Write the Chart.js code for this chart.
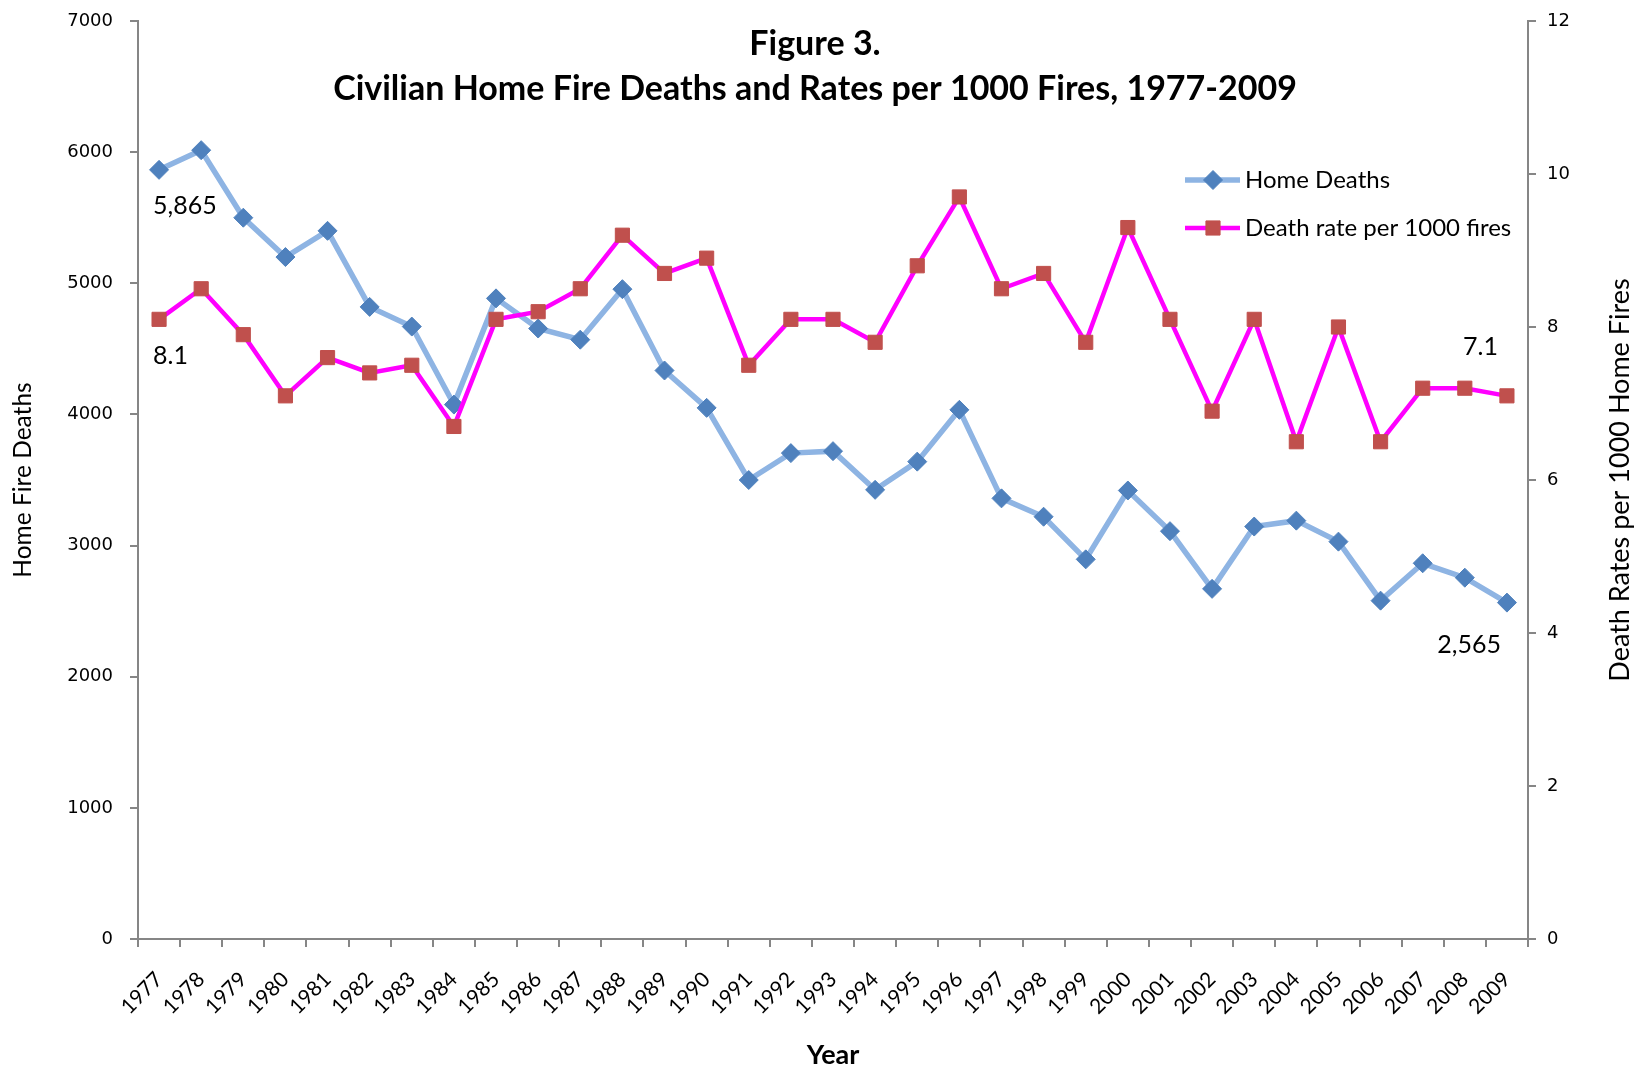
<!DOCTYPE html>
<html>
<head>
<meta charset="utf-8">
<script src="https://cdn.jsdelivr.net/npm/chart.js@4.4.1/dist/chart.umd.min.js"></script>
<style>
  html, body { margin: 0; padding: 0; background: #fff; }
  #wrap { width: 1639px; height: 1071px; }
</style>
</head>
<body>
<div id="wrap"><canvas id="fireChart" width="1639" height="1071"></canvas></div>
<script>
const years = ['1977', '1978', '1979', '1980', '1981', '1982', '1983', '1984', '1985', '1986', '1987',
  '1988', '1989', '1990', '1991', '1992', '1993', '1994', '1995', '1996', '1997', '1998',
  '1999', '2000', '2001', '2002', '2003', '2004', '2005', '2006', '2007', '2008', '2009'];

// civilian home fire deaths
const homeDeaths = [5865, 6015, 5500, 5200, 5400, 4820, 4670, 4075, 4885, 4655, 4570,
  4955, 4335, 4050, 3500, 3705, 3720, 3425, 3640, 4035, 3360, 3220,
  2895, 3420, 3110, 2670, 3145, 3190, 3030, 2580, 2865, 2755, 2565];

// deaths per 1000 home fires
const deathRate = [8.1, 8.5, 7.9, 7.1, 7.6, 7.4, 7.5, 6.7, 8.1, 8.2, 8.5,
  9.2, 8.7, 8.9, 7.5, 8.1, 8.1, 7.8, 8.8, 9.7, 8.5, 8.7,
  7.8, 9.3, 8.1, 6.9, 8.1, 6.5, 8.0, 6.5, 7.2, 7.2, 7.1];

const titleLines = ['Figure 3.', 'Civilian Home Fire Deaths and Rates per 1000 Fires, 1977-2009'];
const seriesNames = ['Home Deaths', 'Death rate per 1000 fires'];

const axisGray = '#868686';

// first and last values get a text label, like the original
const pointNotes = [
  { ds: 0, index: 0, dx: -6, dy: 36, align: 'left' },
  { ds: 1, index: 0, dx: -6, dy: 37, align: 'left' },
  { ds: 0, index: years.length - 1, dx: -6, dy: 42, align: 'right' },
  { ds: 1, index: years.length - 1, dx: -9, dy: -49, align: 'right' }
];

// keep the plot top fixed, labels may hang over the edge
const noOverhang = s => { s.paddingTop = 0; s.paddingBottom = 0; };

const overlay = {
  id: 'overlay',
  afterDatasetsDraw(chart) {
    const { ctx } = chart;
    ctx.save();
    ctx.fillStyle = '#000';
    ctx.textBaseline = 'middle';

    // title sits inside the plot area
    ctx.textAlign = 'center';
    ctx.font = 'bold 34px Lato';
    ctx.fillText(titleLines[0], 815, 44);
    ctx.fillText(titleLines[1], 815, 89);

    // legend
    const rows = [180, 228];
    chart.data.datasets.forEach((ds, i) => {
      const y = rows[i];
      ctx.strokeStyle = ds.borderColor;
      ctx.lineWidth = ds.borderWidth;
      ctx.beginPath();
      ctx.moveTo(1185, y);
      ctx.lineTo(1240, y);
      ctx.stroke();
      ctx.fillStyle = ds.pointBackgroundColor;
      ctx.strokeStyle = ds.pointBorderColor;
      ctx.lineWidth = ds.pointBorderWidth;
      Chart.helpers.drawPoint(ctx, {
        pointStyle: ds.pointStyle, radius: ds.pointRadius, rotation: 0, borderWidth: ds.pointBorderWidth
      }, 1213, y);
      ctx.fillStyle = '#000';
      ctx.textAlign = 'left';
      ctx.font = '24px Lato';
      ctx.fillText(seriesNames[i], 1245, y);
    });

    // value labels
    ctx.font = '25px Lato';
    pointNotes.forEach(n => {
      const meta = chart.getDatasetMeta(n.ds);
      const pt = meta.data[n.index];
      const v = chart.data.datasets[n.ds].data[n.index];
      const txt = n.ds === 0 ? v.toLocaleString('en-US') : v.toFixed(1);
      ctx.textAlign = n.align;
      ctx.fillText(txt, pt.x + n.dx, pt.y + n.dy);
    });

    // right axis title reads bottom to top
    ctx.font = '27px Lato';
    ctx.textAlign = 'center';
    ctx.translate(1620, 480);
    ctx.rotate(-Math.PI / 2);
    ctx.fillText('Death Rates per 1000 Home Fires', 0, 0);
    ctx.restore();
  }
};

new Chart(document.getElementById('fireChart'), {
  type: 'line',
  data: {
    labels: years,
    datasets: [
      {
        label: seriesNames[0],
        data: homeDeaths,
        yAxisID: 'y',
        borderColor: '#8EB4E3',
        borderWidth: 5.5,
        pointStyle: 'rectRot',
        pointRadius: 9.5,
        pointBackgroundColor: '#4F81BD',
        pointBorderColor: '#4F81BD',
        pointBorderWidth: 1,
        tension: 0,
        order: 2
      },
      {
        label: seriesNames[1],
        data: deathRate,
        yAxisID: 'y1',
        borderColor: '#FF00FF',
        borderWidth: 4.5,
        pointStyle: 'rect',
        pointRadius: 10,
        pointBackgroundColor: '#C0504D',
        pointBorderColor: '#C0504D',
        pointBorderWidth: 1,
        tension: 0,
        order: 1
      }
    ]
  },
  options: {
    responsive: false,
    animation: false,
    devicePixelRatio: 1,
    layout: { padding: { top: 21, left: 0, right: 0, bottom: 0 } },
    plugins: {
      legend: { display: false },
      tooltip: { enabled: false },
      title: { display: false }
    },
    scales: {
      x: {
        type: 'category',
        offset: true,
        afterFit: s => { s.height = 132; },
        grid: { offset: true, drawOnChartArea: false, drawTicks: true, tickLength: 8, color: axisGray, lineWidth: 2 },
        border: { color: axisGray, width: 2 },
        ticks: {
          autoSkip: false, minRotation: 45, maxRotation: 45, padding: 20,
          color: '#000', font: { family: 'Lato', size: 21 }
        },
        title: {
          display: true, text: 'Year', color: '#000',
          font: { family: 'Lato', size: 27, weight: 'bold' }, padding: { top: 0, bottom: 0 }
        }
      },
      y: {
        position: 'left',
        min: 0, max: 7000,
        afterFit: s => { s.width = 138; noOverhang(s); },
        grid: { drawOnChartArea: false, drawTicks: true, tickLength: 8, color: axisGray, lineWidth: 2 },
        border: { color: axisGray, width: 2 },
        ticks: {
          stepSize: 1000, padding: 17, color: '#000',
          font: { family: 'DejaVu Sans', size: 18 },
          callback: v => String(v)
        },
        title: {
          display: true, text: 'Home Fire Deaths', color: '#000',
          font: { family: 'Lato', size: 24.5 }, padding: { top: 8, bottom: 0 }
        }
      },
      y1: {
        position: 'right',
        min: 0, max: 12,
        afterFit: s => { s.width = 111; noOverhang(s); },
        grid: { drawOnChartArea: false, drawTicks: true, tickLength: 8, color: axisGray, lineWidth: 2 },
        border: { color: axisGray, width: 2 },
        ticks: { stepSize: 2, padding: 11, color: '#000', font: { family: 'DejaVu Sans', size: 18 } }
      }
    }
  },
  plugins: [overlay]
});
</script>
</body>
</html>
